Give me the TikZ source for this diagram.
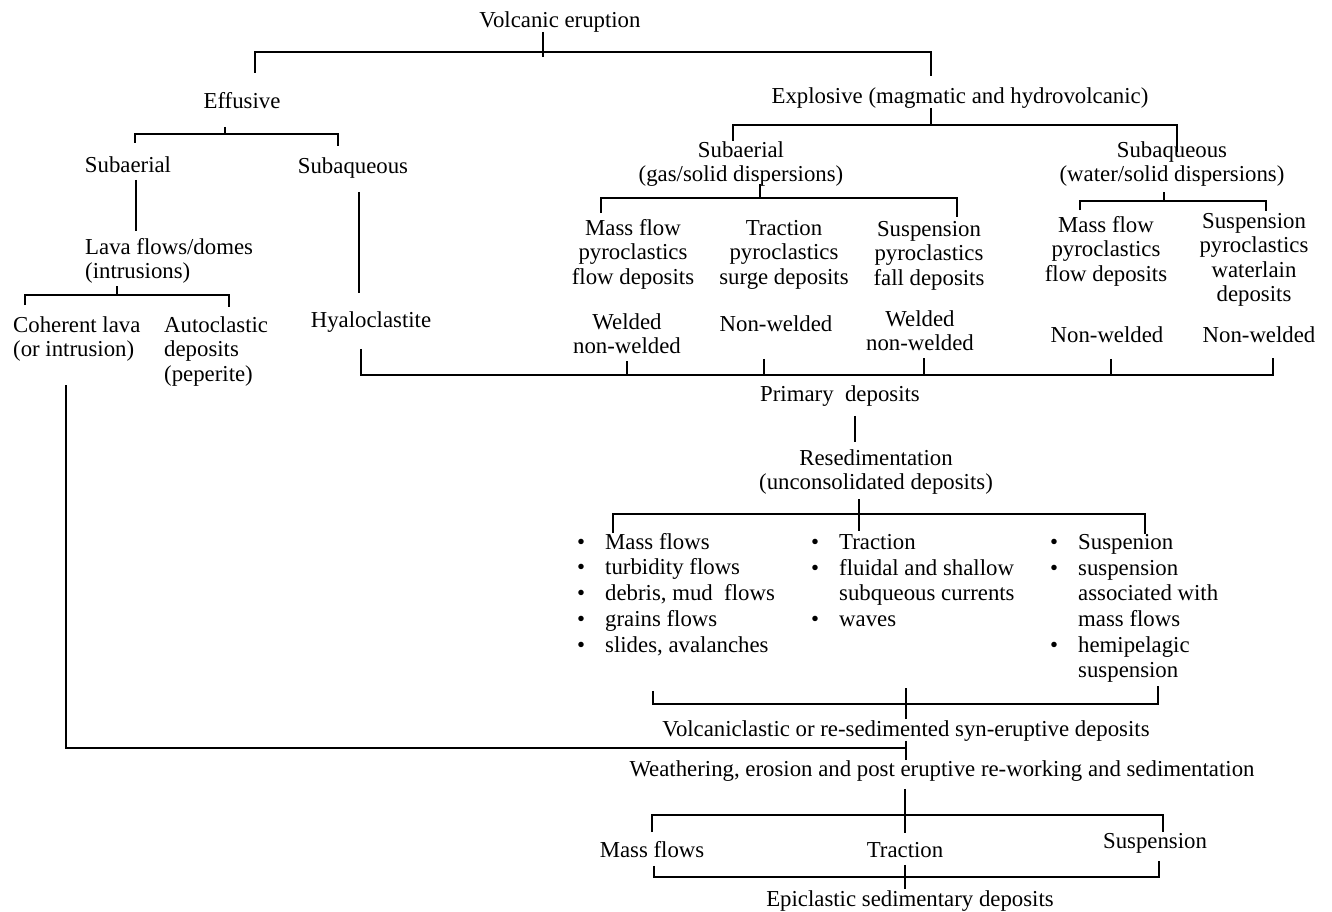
\documentclass[tikz,border=0pt]{standalone}
\usepackage{fontspec}
\setmainfont{Liberation Serif}
\newcommand{\bitem}{\makebox[28pt][l]{\textbullet}}
\newcommand{\bcont}{\hspace*{28pt}}

\begin{document}
\begin{tikzpicture}[
  x=1pt,y=-1pt,
  txt/.style={inner sep=0pt,anchor=north,align=center,font=\fontsize{22.8}{24.5}\selectfont,
    execute at begin node=\strut,execute at end node=\strut},
  bullets/.style={txt,anchor=north west,align=left,font=\fontsize{22.8}{25.7}\selectfont},
  link/.style={line width=1.7pt}
]
  \useasboundingbox (0,0) rectangle (1332,912);

  % upper tree
  \node[txt] (erupt) at (560,10) {Volcanic eruption};
  \node[txt] (effusive) at (242,91) {Effusive};
  \node[txt] (explosive) at (960,86) {Explosive (magmatic and hydrovolcanic)};
  \node[txt] (subaer) at (128,155) {Subaerial};
  \node[txt] (subaq) at (353,156) {Subaqueous};
  \node[txt,anchor=north west,align=left] (lava) at (85,238) {Lava flows/domes\\(intrusions)};
  \node[txt,anchor=north west,align=left] (coherent) at (13,316) {Coherent lava\\(or intrusion)};
  \node[txt,anchor=north west,align=left] (autocl) at (164,316) {Autoclastic\\deposits\\(peperite)};
  \node[txt] (hyalo) at (371,310) {Hyaloclastite};
  \node[txt] (subaerb) at (741,141) {Subaerial\\(gas/solid dispersions)};
  \node[txt] (subaqb) at (1172,141) {Subaqueous\\(water/solid dispersions)};
  \node[txt] (massflow) at (633,219) {Mass flow\\pyroclastics\\flow deposits};
  \node[txt] (traction) at (784,220) {Traction\\pyroclastics\\surge deposits};
  \node[txt] (suspfall) at (929,221) {Suspension\\pyroclastics\\fall deposits};
  \node[txt] (massflowb) at (1106,216) {Mass flow\\pyroclastics\\flow deposits};
  \node[txt] (suspwater) at (1254,213) {Suspension\\pyroclastics\\waterlain\\deposits};
  \node[txt] (weld1) at (627,313) {Welded\\non-welded};
  \node[txt] (nonweld1) at (776,314) {Non-welded};
  \node[txt] (weld2) at (920,310) {Welded\\non-welded};
  \node[txt] (nonweld2) at (1107,325) {Non-welded};
  \node[txt] (nonweld3) at (1259,325) {Non-welded};

  % lower tree
  \node[txt] (primary) at (840,384) {Primary\ \ deposits};
  \node[txt] (resed) at (876,449) {Resedimentation\\(unconsolidated deposits)};
  \node[bullets] (listA) at (577,533) {\bitem Mass flows\\\bitem turbidity flows\\\bitem debris, mud\ \ flows\\\bitem grains flows\\\bitem slides, avalanches};
  \node[bullets] (listB) at (811,534) {\bitem Traction\\\bitem fluidal and shallow\\\bcont subqueous currents\\\bitem waves};
  \node[bullets] (listC) at (1050,534) {\bitem Suspenion\\\bitem suspension\\\bcont associated with\\\bcont mass flows\\\bitem hemipelagic\\\bcont suspension};
  \node[txt] (volcani) at (906,719) {Volcaniclastic or re-sedimented syn-eruptive deposits};
  \node[txt] (weather) at (942,759) {Weathering, erosion and post eruptive re-working and sedimentation};
  \node[txt] (massf3) at (652,840) {Mass flows};
  \node[txt] (traction3) at (905,840) {Traction};
  \node[txt] (suspension3) at (1155,831) {Suspension};
  \node[txt] (epicl) at (910,889) {Epiclastic sedimentary deposits};

  % bar corners
  \coordinate (e0) at (543,52);  \coordinate (e1) at (255,52);  \coordinate (e2) at (931,52);
  \coordinate (f1) at (135,134); \coordinate (f2) at (338,134);
  \coordinate (g1) at (25,295);  \coordinate (g2) at (229,295);
  \coordinate (h1) at (733,125); \coordinate (h2) at (1177,125);
  \coordinate (k1) at (601,198); \coordinate (k2) at (957,198);
  \coordinate (m1) at (1080,201); \coordinate (m2) at (1266,201);
  \coordinate (p1) at (361,375); \coordinate (p2) at (1273,375);
  \coordinate (r1) at (613,514); \coordinate (r2) at (1145,514);
  \coordinate (s1) at (653,704); \coordinate (s2) at (1158,704);
  \coordinate (t1) at (66,748);
  \coordinate (u1) at (652,815); \coordinate (u2) at (1163,815);
  \coordinate (v1) at (654,877); \coordinate (v2) at (1159,877);

  \draw[link,shorten <=-3pt] (erupt.south -| e0) -- ([yshift=-5pt]e0);
  \draw[link,shorten <=18pt,shorten >=10pt] (e1 |- effusive.north) -- (e1) -- (e2) -- (e2 |- explosive.north);

  \draw[link] ([xshift=-17pt,yshift=-11pt]effusive.south) -- ++(0,8);
  \draw[link,shorten <=12pt,shorten >=10pt] (f1 |- subaer.north) -- (f1) -- (f2) -- (f2 |- subaq.north);
  \draw[link] ([xshift=8pt]subaer.south) -- ++(0,51);
  \draw[link] ([xshift=32pt]lava.south west) -- ++(0,8);
  \draw[link,shorten <=11pt,shorten >=9pt] (g1 |- coherent.north) -- (g1) -- (g2) -- (g2 |- autocl.north);
  \draw[link,shorten <=11pt,shorten >=17pt] ([xshift=6pt]subaq.south) -- ([xshift=-12pt]hyalo.north);

  \draw[link] ([xshift=-29pt,yshift=3pt]explosive.south) -- ++(0,18);
  \draw[link,shorten >=-11pt] (h1 |- subaerb.north) -- (h1) -- (h2) -- (h2 |- subaqb.north);
  \draw[link] ([xshift=19pt,yshift=5pt]subaerb.south) -- ++(0,13);
  \draw[link,shorten <=6pt,shorten >=4pt] (k1 |- massflow.north) -- (k1) -- (k2) -- (k2 |- suspfall.north);
  \draw[link] ([xshift=-8pt,yshift=-3pt]subaqb.south) -- ++(0,8);
  \draw[link,shorten <=6pt,shorten >=2pt] (m1 |- massflowb.north) -- (m1) -- (m2) -- (m2 |- suspwater.north);

  \draw[link,shorten <=14pt,shorten >=8pt] (p1 |- hyalo.south) -- (p1) -- (p2) -- (p2 |- nonweld3.south);
  \draw[link] (weld1.south) |- (p1);
  \draw[link,shorten <=20pt] ([xshift=-12pt]nonweld1.south) |- (p1);
  \draw[link] ([xshift=4pt]weld2.south) |- (p1);
  \draw[link,shorten <=9pt] ([xshift=4pt]nonweld2.south) |- (p1);
  \draw[link,shorten <=7pt,shorten >=7pt] ([xshift=15pt]primary.south) -- ([xshift=-21pt]resed.north);

  \draw[link] ([xshift=-17pt,yshift=-2pt]resed.south) -- ++(0,32);
  \draw[link] (r1 |- listA.north) -- (r1) -- (r2) -- (r2 |- listC.north);
  \draw[link,shorten <=31pt] (s1 |- listA.south) -- (s1) -- (s2) -- (s2 |- listC.south);
  \draw[link] (volcani.north) -- ++(0,-31);
  \draw[link,shorten <=21pt] (t1 |- coherent.south) -- (t1) -- (t1 -| volcani.south);
  \draw[link,shorten <=-3pt,shorten >=-1pt] (volcani.south) -- (volcani.south |- weather.north);

  \draw[link,shorten <=5pt,shorten >=7pt] (weather.south -| traction3.north) -- (traction3.north);
  \draw[link,shorten <=8pt,shorten >=-1pt] (u1 |- massf3.north) -- (u1) -- (u2) -- (u2 |- suspension3.north);
  \draw[link,shorten <=1pt,shorten >=5pt] (v1 |- massf3.south) -- (v1) -- (v2) -- (v2 |- suspension3.south);
  \draw[link] (traction3.south) -- (traction3.south |- epicl.north);
\end{tikzpicture}
\end{document}
